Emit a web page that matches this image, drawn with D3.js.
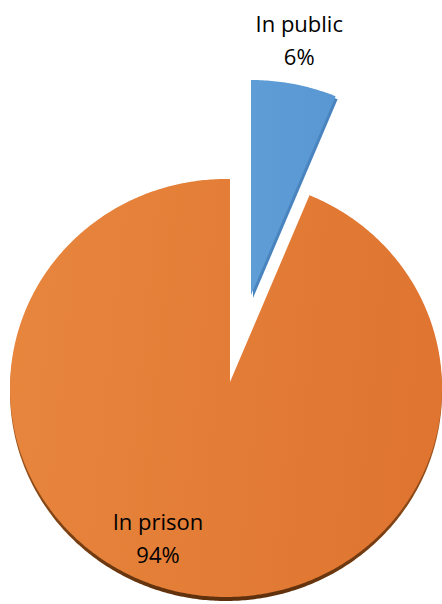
<!DOCTYPE html>
<html>
<head>
<meta charset="utf-8">
<script src="https://cdn.jsdelivr.net/npm/d3@7"></script>
<style>
  html, body { margin: 0; padding: 0; background: #fff; }
  svg { display: block; }
  text { font-family: "Open Sans", "Noto Sans", sans-serif; fill: #000; }
</style>
</head>
<body>
<svg id="chart" width="442" height="604"></svg>
<script>
// Share of cases by location
const categories = ["In public", "In prison"];
const shares = [6, 94];

const W = 442, H = 604;
const svg = d3.select("#chart");

// Per-slice geometry of the tilted, exploded pie: apex of the wedge and the
// ellipse that forms its outer rim.
const sliceGeom = [
  { apex: [251, 295], centre: [251, 295], rx: 222, ry: 215,
    face: "blueFace", side: "#4a84bf", sideShift: [2, 3],
    label: { anchor: "rim", dx: 5, dy: -52 } },
  { apex: [230, 382], centre: [226, 388], rx: 216, ry: 209,
    face: "orangeFace", side: "rimBrown", sideShift: [0, 4],
    label: { anchor: "apex", dx: -72, dy: 148 } }
];
const tilt = 0.93; // vertical squash of the pie plane

const pie = d3.pie().value(d => d).sort(null);
const arcs = pie(shares);

// Where a ray from the apex at pie angle a meets the slice's rim ellipse
function rimPoint(g, a) {
  const dx = Math.sin(a), dy = -Math.cos(a) * tilt;
  const ox = (g.apex[0] - g.centre[0]) / g.rx, oy = (g.apex[1] - g.centre[1]) / g.ry;
  const ux = dx / g.rx, uy = dy / g.ry;
  const A = ux * ux + uy * uy, B = 2 * (ox * ux + oy * uy), C = ox * ox + oy * oy - 1;
  const t = (-B + Math.sqrt(B * B - 4 * A * C)) / (2 * A);
  return [g.apex[0] + t * dx, g.apex[1] + t * dy];
}

function slicePath(g, a0, a1) {
  const p = d3.path();
  p.moveTo(g.apex[0], g.apex[1]);
  const n = Math.max(8, Math.ceil((a1 - a0) / 0.01));
  for (let i = 0; i <= n; i++) {
    const pt = rimPoint(g, a0 + (a1 - a0) * i / n);
    p.lineTo(pt[0], pt[1]);
  }
  p.closePath();
  return p.toString();
}

// Fills
const defs = svg.append("defs");
const og = defs.append("linearGradient").attr("id", "orangeFace")
  .attr("x1", "0%").attr("y1", "0%").attr("x2", "100%").attr("y2", "10%");
og.append("stop").attr("offset", "0%").attr("stop-color", "#e8863e");
og.append("stop").attr("offset", "100%").attr("stop-color", "#df7530");
const bg = defs.append("linearGradient").attr("id", "blueFace")
  .attr("x1", "0%").attr("y1", "0%").attr("x2", "100%").attr("y2", "0%");
bg.append("stop").attr("offset", "0%").attr("stop-color", "#5e9dd6");
bg.append("stop").attr("offset", "100%").attr("stop-color", "#5897d2");
const rg = defs.append("linearGradient").attr("id", "rimBrown")
  .attr("x1", "0%").attr("y1", "0%").attr("x2", "0%").attr("y2", "100%");
rg.append("stop").attr("offset", "60%").attr("stop-color", "#a5581e");
rg.append("stop").attr("offset", "100%").attr("stop-color", "#5e300c");

const slices = svg.append("g").selectAll("g.slice")
  .data(arcs)
  .join("g").attr("class", "slice");

// Thickness of each wedge, seen below / beside its face
slices.append("path")
  .attr("d", (d, i) => slicePath(sliceGeom[i], d.startAngle, d.endAngle))
  .attr("transform", (d, i) => `translate(${sliceGeom[i].sideShift})`)
  .attr("fill", (d, i) => sliceGeom[i].side.startsWith("#") ? sliceGeom[i].side : `url(#${sliceGeom[i].side})`);

// Top face
slices.append("path")
  .attr("d", (d, i) => slicePath(sliceGeom[i], d.startAngle, d.endAngle))
  .attr("fill", (d, i) => `url(#${sliceGeom[i].face})`);

// Category and percentage labels
const fmt = d3.format(".0f");
const total = d3.sum(shares);
slices.each(function (d, i) {
  const g = sliceGeom[i];
  let base;
  if (g.label.anchor === "rim") base = rimPoint(g, (d.startAngle + d.endAngle) / 2);
  else base = g.apex;
  const x = base[0] + g.label.dx, y = base[1] + g.label.dy;
  const t = d3.select(this).append("text")
    .attr("text-anchor", "middle")
    .attr("font-size", 22);
  t.append("tspan").attr("x", x).attr("y", y).text(categories[i]);
  t.append("tspan").attr("x", x).attr("y", y + 33).text(fmt(d.data / total * 100) + "%");
});
</script>
</body>
</html>
